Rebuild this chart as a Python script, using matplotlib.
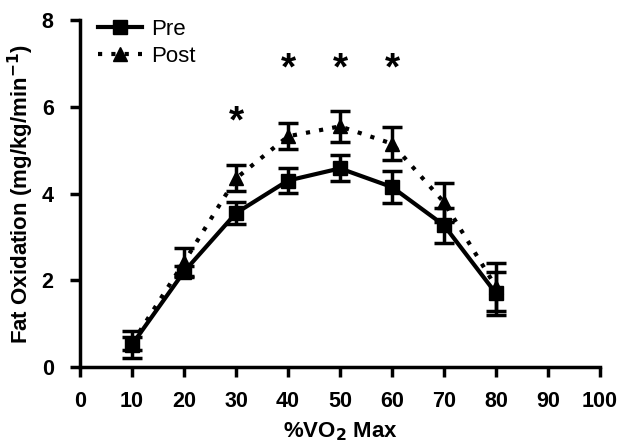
import matplotlib
matplotlib.use("Agg")
import matplotlib.pyplot as plt
from matplotlib.lines import Line2D

x_vals = [10, 20, 30, 40, 50, 60, 70, 80]
pre_mean = [0.52, 2.2, 3.55, 4.3, 4.58, 4.15, 3.27, 1.7]
pre_err = [0.32, 0.13, 0.25, 0.29, 0.3, 0.37, 0.4, 0.5]
post_mean = [0.55, 2.42, 4.35, 5.32, 5.55, 5.15, 3.8, 1.85]
post_err = [0.15, 0.32, 0.3, 0.3, 0.35, 0.38, 0.45, 0.55]
star_x = [30, 40, 50, 60]
star_y = [5.65, 6.85, 6.85, 6.85]
x_ticks = [0, 10, 20, 30, 40, 50, 60, 70, 80, 90, 100]
y_ticks = [0, 2, 4, 6, 8]

plt.rcParams['font.family'] = ['Liberation Sans', 'DejaVu Sans']

fig = plt.figure(figsize=(6.21, 4.46), dpi=100)
ax = fig.add_axes([0.129, 0.177, 0.837, 0.778])

ax.errorbar(x_vals, post_mean, yerr=post_err, color='black', linestyle=(0, (1, 2.2)),
            linewidth=3, marker='^', markersize=9.5, capsize=7, capthick=2.5,
            elinewidth=2.5, zorder=3)
ax.errorbar(x_vals, pre_mean, yerr=pre_err, color='black', linestyle='-',
            linewidth=3, marker='s', markersize=9.5, capsize=7, capthick=2.5,
            elinewidth=2.5, zorder=4)

for sx, sy in zip(star_x, star_y):
    ax.text(sx, sy, '*', ha='center', va='center', fontsize=28, fontweight='bold')

ax.set_xlim(0, 100)
ax.set_ylim(0, 8)
ax.set_xticks(x_ticks)
ax.set_yticks(y_ticks)
for s in ['top', 'right']:
    ax.spines[s].set_visible(False)
for s in ['left', 'bottom']:
    ax.spines[s].set_linewidth(2.5)
ax.tick_params(axis='both', width=2.5, length=7, labelsize=15.5)
ax.tick_params(axis='x', pad=10)
ax.tick_params(axis='y', pad=12)
for lab in ax.get_xticklabels() + ax.get_yticklabels():
    lab.set_fontweight('bold')

ax.set_xlabel('%VO$_\\mathbf{2}$ Max', fontsize=16, fontweight='bold', labelpad=6)
ax.set_ylabel('Fat Oxidation (mg/kg/min$^{\\mathbf{-1}}$)', fontsize=16, fontweight='bold', labelpad=4)

handles = [
    Line2D([], [], color='black', linestyle='-', linewidth=3, marker='s', markersize=9.5),
    Line2D([], [], color='black', linestyle=(0, (1, 2.2)), linewidth=3, marker='^', markersize=9.5),
]
ax.legend(handles, ['Pre', 'Post'], loc='upper left', bbox_to_anchor=(-0.005, 1.06),
          frameon=False, fontsize=16, handlelength=2.0, handletextpad=0.4,
          labelspacing=0.25)

fig.savefig('out.png', dpi=100)
